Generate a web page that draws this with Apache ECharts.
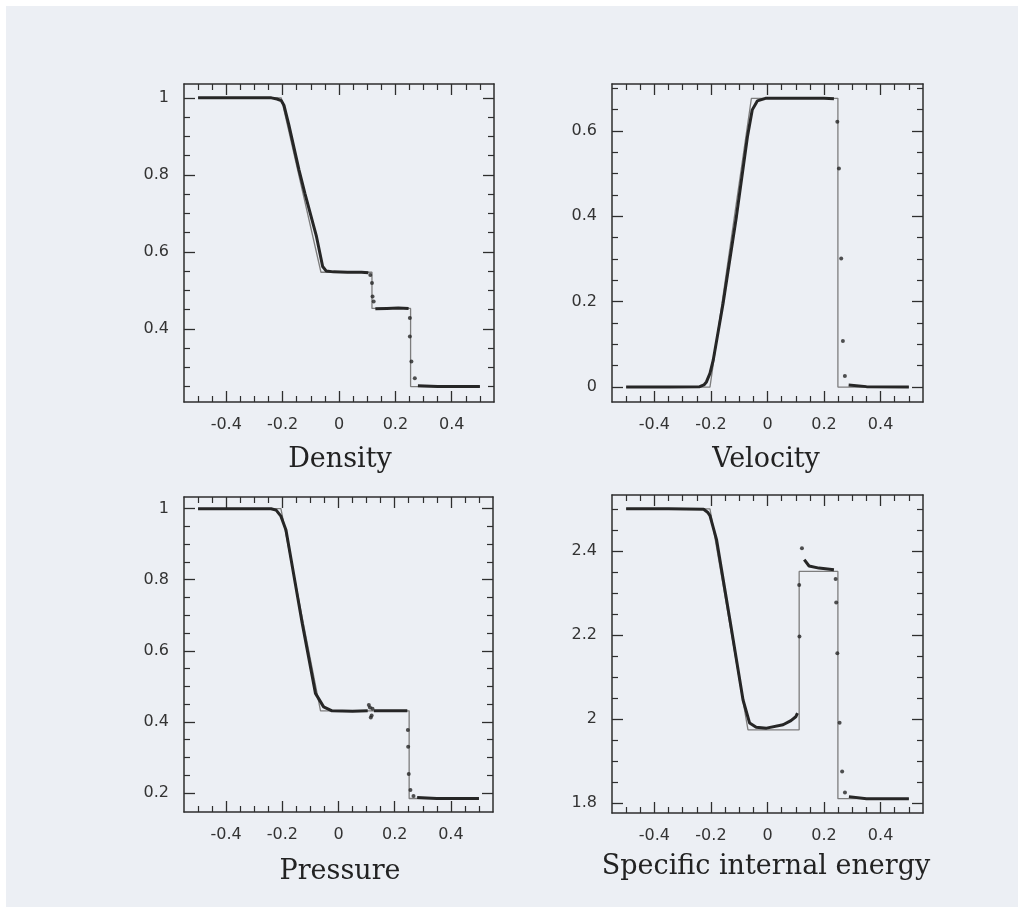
<!DOCTYPE html>
<html>
<head>
<meta charset="utf-8">
<title>Shock tube</title>
<script src="https://cdn.jsdelivr.net/npm/echarts@6/dist/echarts.min.js"></script>
<style>
  html, body { margin: 0; padding: 0; background: #ffffff; }
  #chart { position: absolute; left: 6px; top: 6px; width: 1012px; height: 901px; background: #eceff4; }
</style>
</head>
<body>
<div id="chart"></div>
<script>
// tick values
var xMajor = [-0.4, -0.2, 0, 0.2, 0.4];
var xMinor = [-0.5, -0.45, -0.35, -0.3, -0.25, -0.15, -0.1, -0.05, 0.05, 0.1, 0.15, 0.25, 0.3, 0.35, 0.45, 0.5];

var densMajor = [0.4, 0.6, 0.8, 1];
var densMinor = [0.25, 0.3, 0.35, 0.45, 0.5, 0.55, 0.65, 0.7, 0.75, 0.85, 0.9, 0.95];
var velMajor = [0, 0.2, 0.4, 0.6];
var velMinor = [0.05, 0.1, 0.15, 0.25, 0.3, 0.35, 0.45, 0.5, 0.55, 0.65, 0.7];
var presMajor = [0.2, 0.4, 0.6, 0.8, 1];
var presMinor = [0.25, 0.3, 0.35, 0.45, 0.5, 0.55, 0.65, 0.7, 0.75, 0.85, 0.9, 0.95];
var enerMajor = [1.8, 2, 2.2, 2.4];
var enerMinor = [1.85, 1.9, 1.95, 2.05, 2.1, 2.15, 2.25, 2.3, 2.35, 2.45, 2.5];

// exact solution (thin line)
var densExact = [[-0.5, 1], [-0.205, 1], [-0.064, 0.547], [0.117, 0.547], [0.117, 0.453], [0.254, 0.453], [0.254, 0.25], [0.5, 0.25]];
var velExact = [[-0.5, 0], [-0.2035, 0], [-0.057, 0.676], [0.249, 0.676], [0.249, 0], [0.5, 0]];
var presExact = [[-0.5, 1], [-0.205, 1], [-0.064, 0.431], [0.2515, 0.431], [0.2515, 0.184], [0.5, 0.184]];
var enerExact = [[-0.5, 2.5], [-0.2035, 2.5], [-0.069, 1.974], [0.112, 1.974], [0.112, 2.351], [0.249, 2.351], [0.249, 1.81], [0.5, 1.81]];

// particles, smooth parts ('-' breaks the line)
var densSim = [[-0.5, 1], [-0.35, 1], [-0.24, 1], [-0.22, 0.997], [-0.205, 0.993], [-0.195, 0.98], [-0.178, 0.93],
  [-0.142, 0.813], [-0.121, 0.752], [-0.08, 0.64], [-0.058, 0.562], [-0.045, 0.55], [-0.02, 0.548], [0.03, 0.547],
  [0.08, 0.547], [0.104, 0.546], [0.11, '-'], [0.129, 0.452], [0.17, 0.453], [0.21, 0.454], [0.247, 0.453],
  [0.25, '-'], [0.28, 0.252], [0.35, 0.25], [0.5, 0.25]];
var velSim = [[-0.5, 0], [-0.35, 0], [-0.24, 0.001], [-0.225, 0.005], [-0.216, 0.012], [-0.2035, 0.032], [-0.192, 0.063],
  [-0.157, 0.196], [-0.11, 0.399], [-0.071, 0.586], [-0.054, 0.649], [-0.036, 0.67], [-0.007, 0.676], [0.1, 0.676],
  [0.2, 0.676], [0.235, 0.675], [0.24, '-'], [0.287, 0.005], [0.35, 0.001], [0.5, 0]];
var presSim = [[-0.5, 1], [-0.35, 1], [-0.24, 1], [-0.222, 0.996], [-0.205, 0.979], [-0.187, 0.94], [-0.129, 0.677],
  [-0.082, 0.48], [-0.053, 0.442], [-0.023, 0.431], [0.05, 0.43], [0.104, 0.431], [0.108, '-'], [0.126, 0.431],
  [0.2, 0.431], [0.245, 0.431], [0.248, '-'], [0.28, 0.187], [0.35, 0.184], [0.5, 0.184]];
var enerSim = [[-0.5, 2.5], [-0.35, 2.5], [-0.226, 2.499], [-0.212, 2.492], [-0.2035, 2.484], [-0.18, 2.426],
  [-0.133, 2.236], [-0.0865, 2.045], [-0.0632, 1.99], [-0.04, 1.98], [-0.0035, 1.978], [0.055, 1.986],
  [0.083, 1.996], [0.1, 2.005], [0.106, 2.014], [0.11, '-'], [0.13, 2.379], [0.147, 2.364], [0.182, 2.359],
  [0.235, 2.355], [0.24, '-'], [0.288, 1.815], [0.35, 1.81], [0.5, 1.81]];

// particles, isolated (contact and shock)
var densDots = [[0.111, 0.54], [0.117, 0.519], [0.119, 0.484], [0.123, 0.471],
  [0.2515, 0.428], [0.2515, 0.38], [0.257, 0.315], [0.269, 0.272]];
var velDots = [[0.247, 0.621], [0.2526, 0.512], [0.2607, 0.301], [0.2667, 0.108], [0.2737, 0.026]];
var presDots = [[0.108, 0.447], [0.112, 0.44], [0.115, 0.412], [0.118, 0.418], [0.121, 0.437],
  [0.247, 0.377], [0.248, 0.33], [0.25, 0.253], [0.256, 0.208], [0.267, 0.191]];
var enerDots = [[0.1218, 2.406], [0.112, 2.319], [0.113, 2.196],
  [0.241, 2.333], [0.243, 2.277], [0.247, 2.156], [0.255, 1.991], [0.264, 1.875], [0.274, 1.825]];

var titles = ['Density', 'Velocity', 'Pressure', 'Specific internal energy'];

var INK = '#2e2e2e';
var chart = echarts.init(document.getElementById('chart'));

function sideAxes(grid, pos, min, max, major, minor, labels) {
  var base = { type: 'value', gridIndex: grid, position: pos, offset: 0, min: min, max: max, splitLine: { show: false } };
  var main = Object.assign({}, base, {
    axisLine: { show: true, onZero: false, lineStyle: { color: INK, width: 1.5 } },
    axisTick: { show: true, inside: true, length: 11, customValues: major, lineStyle: { color: INK, width: 1.3 } },
    axisLabel: labels ? {
      show: true, customValues: major, margin: 15, color: '#333',
      fontFamily: 'DejaVu Sans', fontSize: 16
    } : { show: false }
  });
  var sub = Object.assign({}, base, {
    axisLine: { show: false, onZero: false },
    axisTick: { show: true, inside: true, length: 6, customValues: minor, lineStyle: { color: INK, width: 1.2 } },
    axisLabel: { show: false }
  });
  return [main, sub];
}

var grids = [
  { left: 178, top: 78, width: 310, height: 318 },
  { left: 606, top: 78, width: 311, height: 318 },
  { left: 178, top: 491, width: 309, height: 315 },
  { left: 606, top: 489, width: 311, height: 318 }
];
var yRanges = [[0.21, 1.036], [-0.035, 0.7096], [0.146, 1.033], [1.776, 2.533]];
var yMajors = [densMajor, velMajor, presMajor, enerMajor];
var yMinors = [densMinor, velMinor, presMinor, enerMinor];
var exacts = [densExact, velExact, presExact, enerExact];
var sims = [densSim, velSim, presSim, enerSim];
var dots = [densDots, velDots, presDots, enerDots];

var xAxes = [], yAxes = [], series = [];
for (var i = 0; i < 4; i++) {
  xAxes = xAxes.concat(sideAxes(i, 'bottom', -0.55, 0.55, xMajor, xMinor, true))
               .concat(sideAxes(i, 'top', -0.55, 0.55, xMajor, xMinor, false));
  yAxes = yAxes.concat(sideAxes(i, 'left', yRanges[i][0], yRanges[i][1], yMajors[i], yMinors[i], true))
               .concat(sideAxes(i, 'right', yRanges[i][0], yRanges[i][1], yMajors[i], yMinors[i], false));
  series.push({
    type: 'line', xAxisIndex: i * 4, yAxisIndex: i * 4, data: exacts[i], showSymbol: false,
    lineStyle: { color: '#7d7d7d', width: 1.3 }, z: 2
  });
  series.push({
    type: 'line', xAxisIndex: i * 4, yAxisIndex: i * 4, data: sims[i], showSymbol: false, connectNulls: false,
    lineStyle: { color: '#262626', width: 3 }, z: 3
  });
  series.push({
    type: 'scatter', xAxisIndex: i * 4, yAxisIndex: i * 4, data: dots[i], symbolSize: 4,
    itemStyle: { color: '#262626' }, z: 4
  });
}

var titlePos = [[334, 440], [760, 440], [334, 852], [760, 847]];
var graphic = titles.map(function (t, i) {
  return {
    type: 'text', x: titlePos[i][0], y: titlePos[i][1],
    style: { text: t, align: 'center', verticalAlign: 'top', fill: '#222',
      font: 'normal 27px "DejaVu Serif"' }
  };
});

var option = {
  animation: false,
  grid: grids,
  xAxis: xAxes,
  yAxis: yAxes,
  series: series,
  graphic: graphic
};
chart.setOption(option);
</script>
</body>
</html>
